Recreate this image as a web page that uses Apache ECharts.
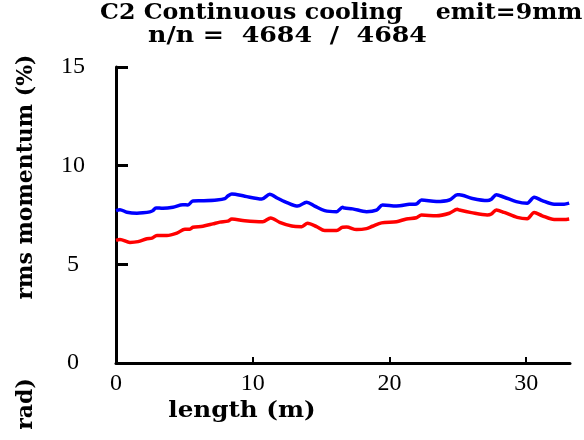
<!DOCTYPE html>
<html>
<head>
<meta charset="utf-8">
<script src="https://cdn.jsdelivr.net/npm/echarts@6/dist/echarts.min.js"></script>
<style>html,body{margin:0;padding:0;background:#fff}#c{width:584px;height:440px}</style>
</head>
<body>
<div id="c"></div>
<script>
const titleLine1 = "C2 Continuous cooling    emit=9mm";
const titleLine2 = "n/n =  4684  /  4684";
const xLabel = "length (m)";
const yLabel = "rms momentum (%)";
const yLabelTail = "rad)";

const blueX = [0,0.29,0.80,1.53,1.97,2.48,2.70,2.92,3.43,4.16,4.89,5.26,5.62,6.35,7.37,7.96,8.18,8.47,9.42,10.66,11.24,11.82,12.55,13.28,13.94,14.53,15.26,16.13,16.57,16.72,17.30,18.32,19.05,19.49,20.51,21.46,21.97,22.34,23.43,24.38,24.96,25.11,25.99,27.15,27.45,27.81,28.39,29.27,30.07,30.58,31.17,32.04,32.77,33.14];
const blueY = [7.72,7.77,7.64,7.59,7.61,7.66,7.72,7.86,7.84,7.89,8.02,8.01,8.21,8.22,8.26,8.33,8.46,8.57,8.45,8.31,8.55,8.35,8.11,7.95,8.15,7.95,7.72,7.67,7.89,7.85,7.81,7.67,7.75,8.01,7.96,8.04,8.06,8.26,8.18,8.26,8.52,8.52,8.35,8.23,8.30,8.52,8.40,8.18,8.10,8.40,8.23,8.05,8.05,8.10];
const redX = [0,0.29,1.02,1.61,2.26,2.63,2.99,3.72,4.45,5.04,5.40,5.62,6.35,7.08,7.59,8.18,8.47,9.42,10.73,11.31,11.97,12.85,13.58,14.01,14.67,15.26,16.13,16.57,16.86,17.59,18.32,18.76,19.42,20.51,21.24,21.97,22.34,23.43,24.38,24.96,25.11,25.99,27.15,27.45,27.81,28.39,29.34,30.07,30.58,31.17,32.04,32.77,33.14];
const redY = [6.21,6.26,6.11,6.15,6.30,6.33,6.46,6.46,6.58,6.78,6.78,6.88,6.93,7.05,7.14,7.19,7.30,7.21,7.16,7.35,7.13,6.94,6.91,7.08,6.91,6.71,6.71,6.88,6.89,6.76,6.81,6.93,7.10,7.16,7.30,7.36,7.50,7.46,7.59,7.79,7.75,7.62,7.50,7.55,7.75,7.63,7.38,7.31,7.63,7.46,7.27,7.27,7.30];

const serif = "'Liberation Serif', 'DejaVu Serif', serif";
const boldSerif = "bold 22px 'DejaVu Serif', serif";
const chart = echarts.init(document.getElementById('c'), null, {renderer: 'canvas'});
chart.setOption({
  animation: false,
  backgroundColor: '#fff',
  grid: {left: 116, right: 14, top: 67, bottom: 77, containLabel: false},
  xAxis: {
    type: 'value', min: 0, max: 33.2, interval: 10,
    splitLine: {show: false},
    axisLine: {lineStyle: {color: '#000', width: 3}},
    axisTick: {inside: true, length: 6, lineStyle: {color: '#000', width: 2}},
    axisLabel: {showMaxLabel: false, color: '#000', fontFamily: serif, fontSize: 24, margin: 9}
  },
  yAxis: {
    type: 'value', min: 0, max: 15, interval: 5,
    splitLine: {show: false},
    axisLine: {lineStyle: {color: '#000', width: 3}},
    axisTick: {inside: true, length: 12, lineStyle: {color: '#000', width: 3}},
    axisLabel: {color: '#000', fontFamily: serif, fontSize: 24, align: 'center', margin: 43}
  },
  series: [
    {type: 'line', data: blueX.map((x, i) => [x, blueY[i]]), showSymbol: false, smooth: 0.3,
     lineStyle: {color: '#0000ff', width: 3.5}, itemStyle: {color: '#0000ff'}},
    {type: 'line', data: redX.map((x, i) => [x, redY[i]]), showSymbol: false, smooth: 0.3,
     lineStyle: {color: '#ff0000', width: 3.5}, itemStyle: {color: '#ff0000'}}
  ],
  graphic: [
    {type: 'text', x: 100, y: 13, scaleX: 1.078, style: {text: titleLine1, font: boldSerif, fill: '#000', align: 'left', verticalAlign: 'middle'}},
    {type: 'text', x: 148, y: 36, scaleX: 1.15, style: {text: titleLine2, font: boldSerif, fill: '#000', align: 'left', verticalAlign: 'middle'}},
    {type: 'text', x: 242, y: 411, scaleX: 1.12, style: {text: xLabel, font: boldSerif, fill: '#000', align: 'center', verticalAlign: 'middle'}},
    {type: 'text', x: 26, y: 177, rotation: Math.PI / 2, style: {text: yLabel, font: boldSerif, fill: '#000', align: 'center', verticalAlign: 'middle'}},
    {type: 'text', x: 26, y: 404, rotation: Math.PI / 2, style: {text: yLabelTail, font: boldSerif, fill: '#000', align: 'center', verticalAlign: 'middle'}}
  ]
});
</script>
</body>
</html>
